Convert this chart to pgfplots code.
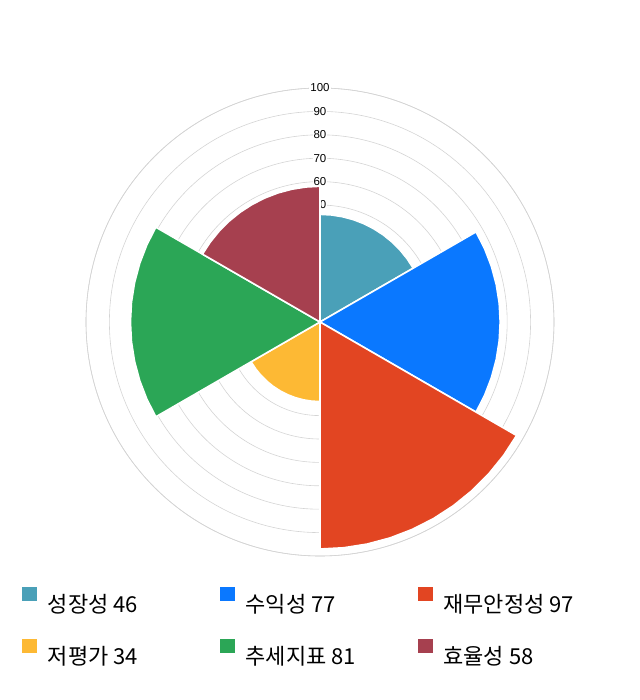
\documentclass[border=0pt]{standalone}
\usepackage{pgfplots}
\pgfplotsset{compat=1.18}
\usepgfplotslibrary{polar}
\usepackage{fontspec}
\setmainfont{Noto Sans CJK KR}
\newfontfamily\tickfont{Liberation Sans}

\definecolor{cA}{HTML}{4AA0B8}
\definecolor{cB}{HTML}{0A78FF}
\definecolor{cC}{HTML}{E24522}
\definecolor{cD}{HTML}{FDB934}
\definecolor{cE}{HTML}{2BA656}
\definecolor{cF}{HTML}{A6404F}
\definecolor{ring}{HTML}{D4D4D4}

\begin{document}
\begin{tikzpicture}
\useasboundingbox (-320bp,-378bp) rectangle (320bp,322bp);
\begin{polaraxis}[
  at={(0,0)}, anchor=center,
  scale only axis,
  width=468bp, height=468bp,
  clip=false,
  xmin=0, xmax=360,
  ymin=0, ymax=100,
  xtick=\empty,
  ytick={10,20,...,100},
  yticklabels={},
  major tick length=0pt,
  ymajorgrids,
  grid style={ring, line width=0.6pt},
  separate axis lines,
  x axis line style={ring, line width=0.6pt},
  y axis line style={draw=none},
  every axis plot/.append style={draw=white, line width=1.6pt, line join=round},
  legend columns=3,
  legend style={
    at={(axis description cs:-0.137,-0.066)}, anchor=north west,
    draw=none, fill=none, inner sep=0pt,
    font=\fontsize{22bp}{26bp}\selectfont,
    row sep=23bp,
    cells={anchor=west},
  },
  legend image code/.code={\fill[#1, draw=none] (0bp,3bp) rectangle (15bp,17bp); \path (23bp,0bp);},
]
\pgfplotsinvokeforeach{50,60,70,80,90,100}{
  \node[fill=white, inner sep=1bp, font=\tickfont\fontsize{11.5bp}{13bp}\selectfont] at (axis cs:90,#1) {#1};
}
% 성장성 46
\addplot[fill=cA] coordinates {(0,0) (90,46) (84,46) (78,46) (72,46) (66,46) (60,46) (54,46) (48,46) (42,46) (36,46) (30,46) (0,0)};
\addlegendentry{\makebox[170bp][l]{성장성 46}}
% 수익성 77
\addplot[fill=cB] coordinates {(0,0) (30,77) (24,77) (18,77) (12,77) (6,77) (0,77) (-6,77) (-12,77) (-18,77) (-24,77) (-30,77) (0,0)};
\addlegendentry{\makebox[170bp][l]{수익성 77}}
% 재무안정성 97
\addplot[fill=cC] coordinates {(0,0) (-30,97) (-36,97) (-42,97) (-48,97) (-54,97) (-60,97) (-66,97) (-72,97) (-78,97) (-84,97) (-90,97) (0,0)};
\addlegendentry{재무안정성 97}
% 저평가 34
\addplot[fill=cD] coordinates {(0,0) (270,34) (264,34) (258,34) (252,34) (246,34) (240,34) (234,34) (228,34) (222,34) (216,34) (210,34) (0,0)};
\addlegendentry{\makebox[170bp][l]{저평가 34}}
% 추세지표 81
\addplot[fill=cE] coordinates {(0,0) (210,81) (204,81) (198,81) (192,81) (186,81) (180,81) (174,81) (168,81) (162,81) (156,81) (150,81) (0,0)};
\addlegendentry{\makebox[170bp][l]{추세지표 81}}
% 효율성 58
\addplot[fill=cF] coordinates {(0,0) (150,58) (144,58) (138,58) (132,58) (126,58) (120,58) (114,58) (108,58) (102,58) (96,58) (90,58) (0,0)};
\addlegendentry{효율성 58}
\end{polaraxis}
\end{tikzpicture}
\end{document}
